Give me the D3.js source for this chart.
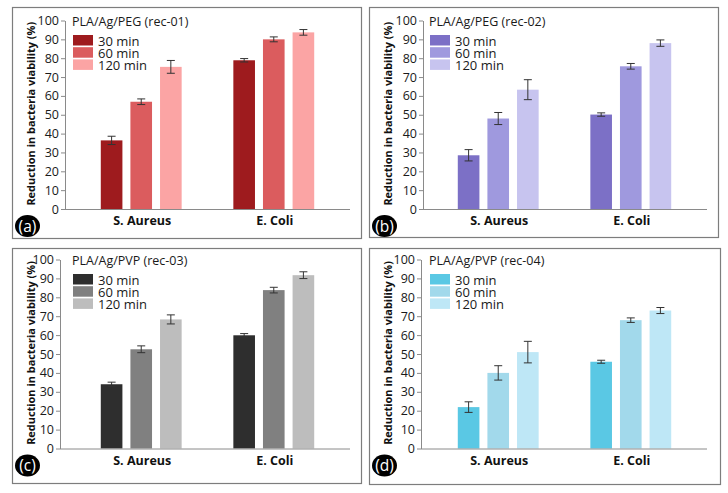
<!DOCTYPE html>
<html lang="en">
<head>
  <meta charset="UTF-8">
  <title>Reduction in bacteria viability</title>
  <script src="https://d3js.org/d3.v7.min.js"></script>
  <style>
    body { margin: 0; background: #fff; }
    svg { display: block; font-family: "Open Sans", sans-serif; }
  </style>
</head>
<body>
  <div id="chart"></div>
  <script>
    // data
    const categories = ["S. Aureus", "E. Coli"];
    const times = ["30 min", "60 min", "120 min"];
    const yTicks = [0, 10, 20, 30, 40, 50, 60, 70, 80, 90, 100];
    const panelTitles = ["PLA/Ag/PEG (rec-01)", "PLA/Ag/PEG (rec-02)", "PLA/Ag/PVP (rec-03)", "PLA/Ag/PVP (rec-04)"];
    const panelLetters = ["a", "b", "c", "d"];

    // rows = categories, columns = times
    const rec01Mean = [[36.4, 56.9, 75.4], [78.9, 90.0, 93.7]];
    const rec01Err  = [[2.2, 1.5, 3.4], [0.9, 1.3, 1.5]];
    const rec02Mean = [[28.5, 48.0, 63.3], [50.1, 75.7, 88.0]];
    const rec02Err  = [[3.0, 3.2, 5.3], [0.9, 1.5, 1.7]];
    const rec03Mean = [[34.0, 52.5, 68.3], [59.9, 83.8, 91.7]];
    const rec03Err  = [[1.1, 1.8, 2.4], [0.9, 1.5, 1.8]];
    const rec04Mean = [[21.9, 40.0, 51.0], [45.9, 67.9, 73.0]];
    const rec04Err  = [[2.8, 3.8, 5.7], [0.8, 1.2, 1.6]];

    const rec01Colors = ["#9e1b1e", "#db5c5e", "#fba4a4"];
    const rec02Colors = ["#7c70c6", "#9f99de", "#c7c4ef"];
    const rec03Colors = ["#2e2e2e", "#808080", "#bdbdbd"];
    const rec04Colors = ["#5ac8e4", "#a2d9eb", "#bee7f6"];

    const means = [rec01Mean, rec02Mean, rec03Mean, rec04Mean];
    const errs = [rec01Err, rec02Err, rec03Err, rec04Err];
    const colors = [rec01Colors, rec02Colors, rec03Colors, rec04Colors];

    const W = 728, H = 493;
    const svg = d3.select("#chart").append("svg")
      .attr("width", W).attr("height", H);

    // panel boxes and axis placement
    const boxes = [
      { x: 12,  y: 7,   w: 349, h: 231, axisX: 65,  y0: 209,   y100: 20.5 },
      { x: 369, y: 7,   w: 349, h: 230, axisX: 423, y0: 209,   y100: 20.5 },
      { x: 12,  y: 248, w: 349, h: 235, axisX: 60,  y0: 448.5, y100: 259.5 },
      { x: 369, y: 248, w: 351, h: 236, axisX: 421, y0: 448.5, y100: 259.5 }
    ];

    boxes.forEach((b, p) => {
      const g = svg.append("g");

      g.append("rect")
        .attr("x", b.x + 0.5).attr("y", b.y + 0.5)
        .attr("width", b.w).attr("height", b.h)
        .attr("fill", "none").attr("stroke", "#7d7d7d").attr("stroke-width", 1.2);

      const x = d3.scaleBand().domain(categories)
        .range([b.x + 53, b.x + 338])
        .paddingInner(0.39).paddingOuter(0.27);
      const xi = d3.scaleBand().domain(times)
        .range([0, x.bandwidth()])
        .paddingInner(0.27).paddingOuter(0);
      const y = d3.scaleLinear().domain([0, 100]).range([b.y0, b.y100]);

      // bars
      const grp = g.selectAll(".cat").data(categories).enter().append("g")
        .attr("transform", d => `translate(${x(d)},0)`);

      grp.selectAll("rect").data((d, i) => times.map((t, j) => ({ t, j, v: means[p][i][j], e: errs[p][i][j] })))
        .enter().append("rect")
        .attr("x", d => xi(d.t))
        .attr("width", xi.bandwidth())
        .attr("y", d => y(d.v))
        .attr("height", d => y(0) - y(d.v))
        .attr("fill", d => colors[p][d.j]);

      // error bars
      const eb = grp.selectAll(".err").data((d, i) => times.map((t, j) => ({ t, v: means[p][i][j], e: errs[p][i][j] })))
        .enter().append("g").attr("stroke", "#333").attr("stroke-width", 1);
      const cx = d => xi(d.t) + xi.bandwidth() / 2;
      eb.append("line")
        .attr("x1", cx).attr("x2", cx)
        .attr("y1", d => y(d.v - d.e)).attr("y2", d => y(d.v + d.e));
      eb.append("line")
        .attr("x1", d => cx(d) - 4).attr("x2", d => cx(d) + 4)
        .attr("y1", d => y(d.v + d.e)).attr("y2", d => y(d.v + d.e));
      eb.append("line")
        .attr("x1", d => cx(d) - 4).attr("x2", d => cx(d) + 4)
        .attr("y1", d => y(d.v - d.e)).attr("y2", d => y(d.v - d.e));

      // y axis
      const ya = g.append("g")
        .attr("transform", `translate(${b.axisX},0)`)
        .call(d3.axisLeft(y).tickValues(yTicks).tickSize(4).tickSizeOuter(0).tickPadding(2));
      ya.select(".domain").attr("stroke", "#8a8a8a");
      ya.selectAll(".tick line").attr("stroke", "#8a8a8a");
      ya.selectAll(".tick text").attr("fill", "#1a1a1a")
        .style("font-size", "12.5px").style("font-family", "'Open Sans', sans-serif");

      // x axis line
      g.append("line")
        .attr("x1", b.axisX).attr("x2", b.x + 338)
        .attr("y1", b.y0 + 0.5).attr("y2", b.y0 + 0.5)
        .attr("stroke", "#8a8a8a");

      g.selectAll(".xl").data(categories).enter().append("text")
        .attr("x", d => x(d) + x.bandwidth() / 2 + 1)
        .attr("y", b.y0 + 16)
        .attr("text-anchor", "middle")
        .attr("font-weight", "bold").attr("font-size", 12.5).attr("fill", "#111")
        .text(d => d);

      // y label, sized so it spans the axis like the original
      const yl = g.append("text")
        .attr("transform", `translate(${b.x + 23},${(b.y0 + b.y100) / 2 - 1}) rotate(-90)`)
        .attr("text-anchor", "middle")
        .attr("font-weight", "bold").attr("font-size", 12).attr("fill", "#111")
        .text("Reduction in bacteria viability (%)");
      const len = yl.node().getComputedTextLength();
      if (len > 0) yl.attr("font-size", Math.min(13, 12 * 184 / len));

      // title and legend
      g.append("text")
        .attr("x", b.x + 60).attr("y", b.y100 + 5.5)
        .attr("font-size", 12.5).attr("fill", "#1a1a1a")
        .text(panelTitles[p]);

      const lg = g.selectAll(".lg").data(times).enter().append("g")
        .attr("transform", (d, i) => `translate(${b.x + 61},${b.y100 + 14.5 + i * 12.2})`);
      lg.append("rect").attr("width", 20).attr("height", 10.5)
        .attr("fill", (d, i) => colors[p][i]);
      lg.append("text").attr("x", 25).attr("y", 10.5)
        .attr("font-size", 13).attr("fill", "#1a1a1a")
        .text(d => d);

      // panel letter
      g.append("ellipse")
        .attr("cx", b.x + 15.5).attr("cy", b.y0 + 17)
        .attr("rx", 12.5).attr("ry", 11).attr("fill", "#000");
      g.append("text")
        .attr("x", b.x + 15.5).attr("y", b.y0 + 22.5)
        .attr("text-anchor", "middle").attr("fill", "#fff")
        .attr("font-size", 15.5)
        .text(`(${panelLetters[p]})`);
    });
  </script>
</body>
</html>
